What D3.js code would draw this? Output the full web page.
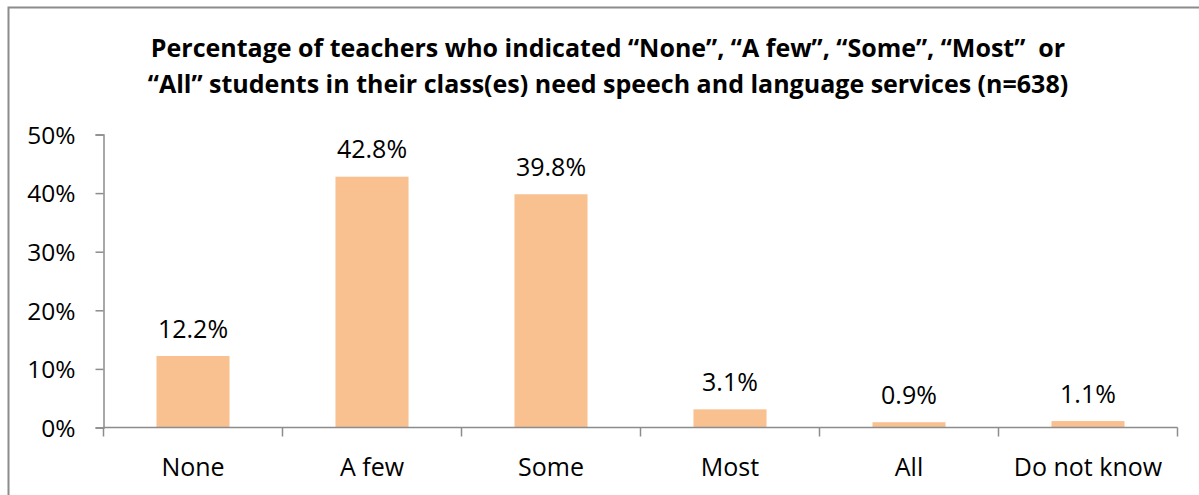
<!DOCTYPE html>
<html>
<head>
<meta charset="utf-8">
<script src="https://cdn.jsdelivr.net/npm/d3@7/dist/d3.min.js"></script>
<style>
  html, body { margin: 0; padding: 0; background: #fff; }
  svg { display: block; font-family: "Open Sans", Lato, sans-serif; }
  text { white-space: pre; }
</style>
</head>
<body>
<svg id="chart" width="1199" height="495"></svg>
<script>
// Survey responses: share of teachers per answer
const categories = ["None", "A few", "Some", "Most", "All", "Do not know"];
const values = [12.2, 42.8, 39.8, 3.1, 0.9, 1.1];
const yTicks = [0, 10, 20, 30, 40, 50];
const titleLines = [
  "Percentage of teachers who indicated \u201cNone\u201d, \u201cA few\u201d, \u201cSome\u201d, \u201cMost\u201d  or",
  "\u201cAll\u201d students in their class(es) need speech and language services (n=638)"
];

const svg = d3.select("#chart");
const W = 1199, H = 495;
const margin = { left: 103.5, right: 1177.5, top: 134.5, bottom: 427.5 };
const axisColor = "#8c8c8c";
const barColor = "#f9c090";
const fontSize = 25;

// outer frame (runs off the right and bottom edges)
svg.append("rect")
  .attr("x", 8.5).attr("y", 7.5)
  .attr("width", W + 20).attr("height", H + 20)
  .attr("fill", "none").attr("stroke", axisColor).attr("stroke-width", 2);

// title
svg.append("g").selectAll("text")
  .data(titleLines).join("text")
  .attr("x", 608).attr("y", (d, i) => 57 + i * 36)
  .attr("text-anchor", "middle")
  .attr("font-weight", "bold").attr("font-size", 25)
  .attr("fill", "#000")
  .text(d => d);

const x = d3.scaleBand()
  .domain(categories)
  .range([margin.left, margin.right])
  .paddingInner(0.592).paddingOuter(0.296);

const y = d3.scaleLinear().domain([0, 50]).range([margin.bottom, margin.top]);

// y axis
const yAxis = svg.append("g")
  .attr("transform", `translate(${margin.left},0)`)
  .call(d3.axisLeft(y).tickValues(yTicks).tickFormat(d => d + "%").tickSize(8).tickPadding(20));
yAxis.select(".domain").attr("stroke", axisColor).attr("stroke-width", 1.5);
yAxis.selectAll(".tick line").attr("stroke", axisColor).attr("stroke-width", 1.5);
yAxis.selectAll(".tick text")
  .attr("font-family", "'Open Sans', sans-serif").attr("font-size", 24.5)
  .attr("dy", "0.36em").attr("fill", "#000");

// bars
svg.append("g").selectAll("rect")
  .data(values).join("rect")
  .attr("x", (d, i) => x(categories[i]))
  .attr("y", d => y(d))
  .attr("width", x.bandwidth())
  .attr("height", d => y(0) - y(d))
  .attr("fill", barColor);

// value labels
svg.append("g").selectAll("text")
  .data(values).join("text")
  .attr("x", (d, i) => x(categories[i]) + x.bandwidth() / 2)
  .attr("y", d => y(d) - 18.5)
  .attr("text-anchor", "middle")
  .attr("font-size", fontSize).attr("fill", "#000")
  .text(d => d.toFixed(1) + "%");

// x axis with ticks on category boundaries
const step = x.step();
const bounds = d3.range(categories.length + 1).map(i => margin.left + i * step);
const xg = svg.append("g");
xg.append("line")
  .attr("x1", margin.left).attr("x2", margin.right)
  .attr("y1", margin.bottom).attr("y2", margin.bottom)
  .attr("stroke", axisColor).attr("stroke-width", 1.5);
xg.selectAll("line.t").data(bounds).join("line").attr("class", "t")
  .attr("x1", d => d).attr("x2", d => d)
  .attr("y1", margin.bottom).attr("y2", margin.bottom + 9)
  .attr("stroke", axisColor).attr("stroke-width", 1.5);
xg.selectAll("text").data(categories).join("text")
  .attr("x", d => x(d) + x.bandwidth() / 2)
  .attr("y", 476)
  .attr("text-anchor", "middle")
  .attr("font-size", fontSize).attr("fill", "#000")
  .text(d => d);
</script>
</body>
</html>
